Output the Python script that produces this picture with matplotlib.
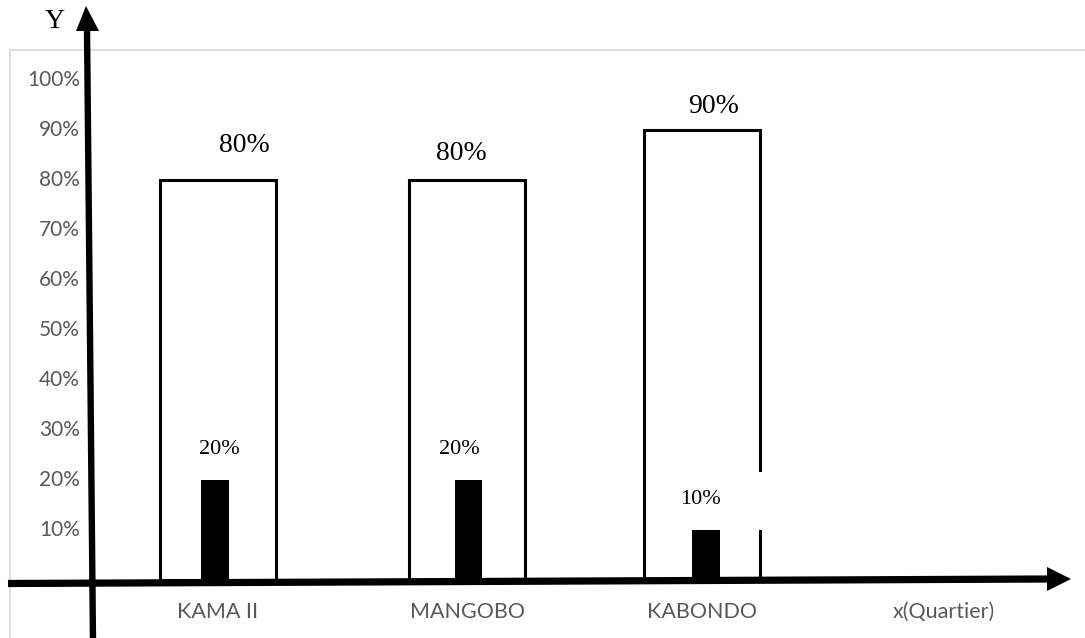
import matplotlib
matplotlib.use("Agg")
import matplotlib.pyplot as plt
from matplotlib.patches import Polygon, Rectangle

# ---- data ----
categories = ["KAMA II", "MANGOBO", "KABONDO", "x(Quartier)"]
white_values = [80, 80, 90]
black_values = [20, 20, 10]
ytick_values = [10, 20, 30, 40, 50, 60, 70, 80, 90, 100]
ytick_labels = [f"{v}%" for v in ytick_values]

# layout / styling (not data)
cat_positions = [0.0, 1.03, 2.0, 3.0]
black_shift = [-0.012, 0.005, 0.016]
white_label_offsets = [(19, 25), (-4, 19), (8, 17)]
black_label_offsets = [(1, 22), (-6, 22), (-1, 22)]

W, H = 1085, 638
fig = plt.figure(figsize=(W / 100, H / 100), dpi=100)
fig.patch.set_facecolor("white")

ax = fig.add_axes([10 / W, 0, (W - 10) / W, (H - 50) / H])
ax.set_xlim((10 - 218) / 242, (W - 218) / 242)
ax.set_ylim((580 - H) / 5, (580 - 50) / 5)
for s in ["right", "bottom"]:
    ax.spines[s].set_visible(False)
for s in ["top", "left"]:
    ax.spines[s].set_color("#d9d9d9")
    ax.spines[s].set_linewidth(1.2)
ax.set_xticks([])
ax.set_yticks([])

xs = cat_positions[:len(white_values)]
ax.bar(xs, white_values, width=0.48, color="white", edgecolor="black",
       linewidth=2.2, zorder=2)
ax.bar([x + d for x, d in zip(xs, black_shift)], black_values, width=0.115,
       color="black", edgecolor="black", linewidth=0, zorder=3)

tick_font = "Lato"
gray = "#595959"
for v, lab in zip(ytick_values, ytick_labels):
    ax.text((80 - 218) / 242, v, lab, ha="right", va="center",
            fontsize=15, color=gray, family=tick_font)
for x, c in zip(cat_positions, categories):
    ax.text(x, -6.4, c, ha="center", va="center", fontsize=15.5,
            color=gray, family=tick_font)

# white text-box patch covering part of KABONDO edge
ax.add_patch(Rectangle((2.0, 10.0), 0.26, 11.6, facecolor="white",
                       edgecolor="none", zorder=4))

serif = "Liberation Serif"
for x, v, off in zip(xs, white_values, white_label_offsets):
    ax.annotate(f"{v}%", (x, v), xytext=off, textcoords="offset points",
                ha="center", va="center", fontsize=20, family=serif, zorder=5)
for x, v, off in zip(xs, black_values, black_label_offsets):
    ax.annotate(f"{v}%", (x, v), xytext=off, textcoords="offset points",
                ha="center", va="center", fontsize=16, family=serif, zorder=5)

# overlay for hand-drawn axes arrows
ov = fig.add_axes([0, 0, 1, 1], zorder=10)
ov.set_xlim(0, W)
ov.set_ylim(H, 0)
ov.axis("off")
ov.patch.set_visible(False)

ov.plot([93, 87], [H + 5, 28], color="black", lw=4.6, solid_capstyle="butt")
ov.add_patch(Polygon([(86, 6), (76, 31), (99, 31)], closed=True,
                     facecolor="black", edgecolor="none"))
ov.plot([8, 1049], [583.5, 579], color="black", lw=5.2, solid_capstyle="butt")
ov.add_patch(Polygon([(1071, 579), (1047, 567), (1047, 591)], closed=True,
                     facecolor="black", edgecolor="none"))

ov.text(55, 21, "Y", ha="center", va="center", fontsize=20, family=serif)

fig.savefig("out.png", dpi=100)
